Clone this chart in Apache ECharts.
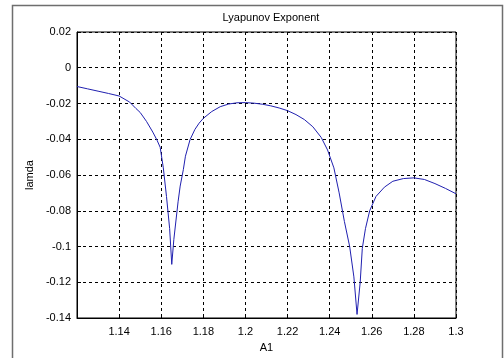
<!DOCTYPE html>
<html>
<head>
<meta charset="utf-8">
<script src="https://cdn.jsdelivr.net/npm/echarts@6/dist/echarts.min.js"></script>
<style>
  html, body { margin: 0; padding: 0; background: #fff; }
  #chart { width: 504px; height: 358px; }
</style>
</head>
<body>
<div id="chart"></div>
<script>
// Parameter A1 values and the corresponding Lyapunov exponent (lamda)
const a1Values = [
  1.12, 1.125, 1.13, 1.135, 1.14, 1.145, 1.148, 1.15, 1.153, 1.156, 1.158, 1.1595,
  1.161, 1.1625, 1.164, 1.165, 1.166, 1.168, 1.169, 1.1705, 1.1715, 1.1737, 1.176,
  1.178, 1.18, 1.184, 1.188, 1.192, 1.196, 1.2, 1.204, 1.208, 1.212, 1.216, 1.22,
  1.224, 1.228, 1.232, 1.236, 1.239, 1.242, 1.2445, 1.247, 1.2495, 1.2515, 1.253,
  1.2545, 1.2555, 1.257, 1.259, 1.262, 1.266, 1.27, 1.275, 1.28, 1.285, 1.29, 1.295, 1.3
];
const lamdaValues = [
  -0.0105, -0.0118, -0.0131, -0.0144, -0.0158, -0.0192, -0.0228, -0.0250, -0.0300, -0.0360, -0.0405, -0.0445,
  -0.0560, -0.0720, -0.0900, -0.1100, -0.0960, -0.0750, -0.0662, -0.0570, -0.0495, -0.0402, -0.0345,
  -0.0310, -0.0283, -0.0245, -0.0218, -0.0203, -0.0196, -0.0195, -0.0198, -0.0204, -0.0213, -0.0225, -0.0240,
  -0.0262, -0.0290, -0.0330, -0.0390, -0.0460, -0.0560, -0.0700, -0.0860, -0.1000, -0.1170, -0.1380,
  -0.1200, -0.1010, -0.0900, -0.0800, -0.0720, -0.0668, -0.0635, -0.0620, -0.0616, -0.0625, -0.0648, -0.0675, -0.0705
];

const titleText = 'Lyapunov Exponent';
const xName = 'A1';
const yName = 'lamda';

const points = a1Values.map((x, i) => [x, lamdaValues[i]]);
const fmt = v => String(parseFloat(v.toFixed(2)));
const font = 'Liberation Sans, Arial, sans-serif';

const chart = echarts.init(document.getElementById('chart'), null, { renderer: 'canvas' });
chart.setOption({
  animation: false,
  backgroundColor: '#fff',
  title: {
    text: titleText,
    left: 266, top: 7, textAlign: 'center',
    textStyle: { fontFamily: font, fontSize: 11, fontWeight: 'normal', color: '#000' }
  },
  graphic: [{
    type: 'rect',
    shape: { x: 12.5, y: 5.5, width: 490, height: 370 },
    style: { fill: 'none', stroke: '#6e6e6e', lineWidth: 1.5 },
    silent: true, z: -1
  }],
  grid: {
    left: 77, top: 32, right: 48, bottom: 39,
    show: true, borderColor: '#000', borderWidth: 1, backgroundColor: '#fff'
  },
  xAxis: {
    type: 'value', min: 1.12, max: 1.3, interval: 0.02,
    name: xName, nameLocation: 'middle', nameGap: 24,
    nameTextStyle: { fontFamily: font, fontSize: 11, color: '#000' },
    axisLine: { onZero: false, lineStyle: { color: '#000', width: 1 } },
    axisTick: { inside: true, length: 4, lineStyle: { color: '#000' } },
    axisLabel: { showMinLabel: false, formatter: fmt, margin: 8,
      fontFamily: font, fontSize: 11, color: '#000' },
    splitLine: { show: true, lineStyle: { color: '#000', type: [3, 3], width: 1 } }
  },
  yAxis: {
    type: 'value', min: -0.14, max: 0.02, interval: 0.02,
    name: yName, nameLocation: 'middle', nameGap: 40, nameRotate: 90,
    nameTextStyle: { fontFamily: font, fontSize: 11, color: '#000' },
    axisLine: { show: true, onZero: false, lineStyle: { color: '#000', width: 1 } },
    axisTick: { show: true, inside: true, length: 4, lineStyle: { color: '#000' } },
    axisLabel: { formatter: fmt, margin: 6, fontFamily: font, fontSize: 11, color: '#000' },
    splitLine: { show: true, lineStyle: { color: '#000', type: [3, 3], width: 1 } }
  },
  series: [{
    type: 'line',
    data: points,
    showSymbol: false,
    smooth: false,
    lineStyle: { color: '#2020b0', width: 1 },
    itemStyle: { color: '#2020b0' }
  }]
});
</script>
</body>
</html>
